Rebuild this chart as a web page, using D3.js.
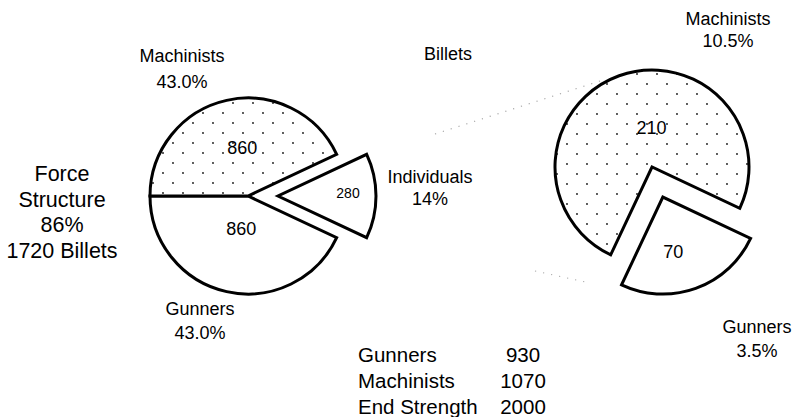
<!DOCTYPE html>
<html>
<head>
<meta charset="utf-8">
<script src="https://cdn.jsdelivr.net/npm/d3@7"></script>
<style>
    body { margin: 0; background: #fff; }
    text { font-family: "Liberation Sans", Arial, sans-serif; fill: #000; }
</style>
</head>
<body>
<div id="chart"></div>
<script>
// force structure pie (left) and individuals pie (right)
const endStrength = 2000;
const leftNames = ["Individuals", "Gunners", "Machinists"];
const leftValues = [280, 860, 860];
const rightNames = ["Gunners", "Machinists"];
const rightValues = [70, 210];
const forceLines = ["Force", "Structure", "86%", "1720 Billets"];
const tableLabels = ["Gunners", "Machinists", "End Strength"];
const tableValues = [930, 1070, 2000];

let settings = {
    width: 793,
    height: 417,
    left: { cx: 248, cy: 196, r: 98, explode: { Individuals: 30 } },
    right: { cx: 652, cy: 167, r: 97, explode: { Gunners: 32 } },
    stroke: 3,
};

const pct1 = d3.format(".1%");
const pct0 = d3.format(".0%");

let svg = d3.select("#chart").append("svg")
    .attr("width", settings.width)
    .attr("height", settings.height);

// dotted fill
let pattern = svg.append("defs").append("pattern")
    .attr("id", "dots")
    .attr("patternUnits", "userSpaceOnUse")
    .attr("x", 4).attr("y", 6)
    .attr("width", 20).attr("height", 20);
pattern.append("rect").attr("width", 20).attr("height", 20).attr("fill", "#fff");
pattern.selectAll("circle").data([[1, 1], [11, 11]]).enter().append("circle")
    .attr("cx", d => d[0]).attr("cy", d => d[1]).attr("r", 0.9).attr("fill", "#111");

function fillFor(name) {
    return name === "Machinists" ? "url(#dots)" : "#fff";
}

function explodeOffset(d, dist) {
    let mid = (d.startAngle + d.endAngle) / 2;
    return [Math.sin(mid) * dist, -Math.cos(mid) * dist];
}

// left pie: individuals slice centred on the right
let leftTotal = d3.sum(leftValues);
let leftStart = Math.PI / 2 - Math.PI * leftValues[0] / leftTotal;
let leftArcs = d3.pie().sort(null).startAngle(leftStart).endAngle(leftStart + 2 * Math.PI)
    .value(d => d.value)(leftNames.map((n, i) => ({ name: n, value: leftValues[i] })));

// right pie starts where the left pie's gunners slice starts
let rightStart = leftArcs[1].startAngle;
let rightArcs = d3.pie().sort(null).startAngle(rightStart).endAngle(rightStart + 2 * Math.PI)
    .value(d => d.value)(rightNames.map((n, i) => ({ name: n, value: rightValues[i] })));

// faint leader lines (drawn under the pies)
let leaders = [
    [[435, 134], [600, 81]],
    [[535, 271], [590, 283]],
];
svg.append("g").selectAll("line").data(leaders).enter().append("line")
    .attr("x1", d => d[0][0]).attr("y1", d => d[0][1])
    .attr("x2", d => d[1][0]).attr("y2", d => d[1][1])
    .attr("stroke", "#aaa").attr("stroke-width", 1.2)
    .attr("stroke-dasharray", "1.2,7");

function drawPie(arcs, conf, labelOffsets) {
    let arc = d3.arc().innerRadius(0).outerRadius(conf.r);
    let g = svg.append("g").attr("transform", "translate(" + conf.cx + "," + conf.cy + ")");
    let slices = g.selectAll("g.slice").data(arcs).enter().append("g")
        .attr("class", "slice")
        .attr("transform", d => {
            let off = explodeOffset(d, conf.explode[d.data.name] || 0);
            return "translate(" + off[0] + "," + off[1] + ")";
        });
    slices.append("path")
        .attr("d", arc)
        .attr("fill", d => fillFor(d.data.name))
        .attr("stroke", "#000")
        .attr("stroke-width", settings.stroke)
        .attr("stroke-linejoin", "miter");
    slices.append("text")
        .attr("text-anchor", "middle")
        .attr("font-size", d => labelOffsets[d.data.name].size)
        .attr("x", d => arc.centroid(d)[0] + labelOffsets[d.data.name].dx)
        .attr("y", d => arc.centroid(d)[1] + labelOffsets[d.data.name].dy)
        .text(d => d.data.value);
}

drawPie(leftArcs, settings.left, {
    Individuals: { dx: 21, dy: 2, size: 14 },
    Gunners: { dx: 4, dy: -9, size: 18 },
    Machinists: { dx: 5, dy: 6, size: 18 },
});
drawPie(rightArcs, settings.right, {
    Gunners: { dx: -6, dy: 15, size: 18 },
    Machinists: { dx: 16, dy: 13, size: 18 },
});

// category labels
let labels = [
    { lines: ["Machinists", pct1(leftValues[2] / endStrength)], x: 182, y: 62, gap: 26 },
    { lines: ["Gunners", pct1(leftValues[1] / endStrength)], x: 200, y: 315, gap: 24 },
    { lines: ["Individuals", pct0(leftValues[0] / endStrength)], x: 430, y: 183, gap: 22 },
    { lines: ["Machinists", pct1(rightValues[1] / endStrength)], x: 728, y: 25, gap: 22 },
    { lines: ["Gunners", pct1(rightValues[0] / endStrength)], x: 757, y: 333, gap: 24 },
    { lines: ["Billets"], x: 448, y: 60, gap: 0 },
];
let lab = svg.append("g").selectAll("text").data(labels).enter().append("text")
    .attr("text-anchor", "middle")
    .attr("font-size", 18)
    .attr("x", d => d.x).attr("y", d => d.y);
lab.selectAll("tspan").data(d => d.lines.map((t, i) => ({ t, i, d }))).enter().append("tspan")
    .attr("x", d => d.d.x)
    .attr("y", d => d.d.y + d.i * d.d.gap)
    .text(d => d.t);

// force structure text
svg.append("g").selectAll("text").data(forceLines).enter().append("text")
    .attr("text-anchor", "middle")
    .attr("font-size", 21.5)
    .attr("x", 62)
    .attr("y", (d, i) => 181 + i * 25.5)
    .text(d => d);

// billets table
let table = svg.append("g");
table.selectAll("text.lab").data(tableLabels).enter().append("text")
    .attr("class", "lab")
    .attr("x", 358)
    .attr("y", (d, i) => 362 + i * 26)
    .attr("font-size", 20.5)
    .text(d => d);
table.selectAll("text.val").data(tableValues).enter().append("text")
    .attr("class", "val")
    .attr("text-anchor", "middle")
    .attr("x", 523)
    .attr("y", (d, i) => 362 + i * 26)
    .attr("font-size", 20.5)
    .text(d => d);
</script>
</body>
</html>
